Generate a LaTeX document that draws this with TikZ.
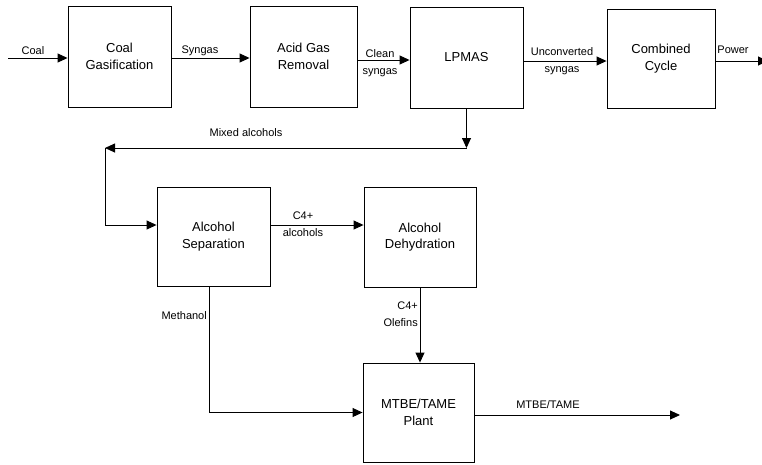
\documentclass[tikz,border=0pt]{standalone}
\usepackage{fontspec}
\setmainfont{Liberation Sans}
\usetikzlibrary{arrows.meta, calc}

\begin{document}
\begin{tikzpicture}[x=1pt,y=-1pt,
  unit/.style={draw,line width=0.9pt,align=center,inner sep=0pt,
    font=\fontsize{13}{16.5}\selectfont},
  flow/.style={line width=0.9pt,-{Triangle[length=10pt,width=9pt]}},
  tag/.style={inner sep=0pt,font=\fontsize{11}{17}\selectfont}]
\useasboundingbox (0,0) rectangle (762,464);
% Process units
\node[unit,minimum width=103pt,minimum height=101pt] (gas) at (119.5,56.5) {Coal\\Gasification};
\node[unit,minimum width=107pt,minimum height=101pt] (agr) at (303.5,56.5) {Acid Gas\\Removal};
\node[unit,minimum width=113pt,minimum height=101pt] (lpmas) at (466.5,57.5) {LPMAS};
\node[unit,minimum width=108pt,minimum height=99pt] (cc) at (661,58.5) {Combined\\Cycle};
\node[unit,minimum width=113pt,minimum height=99pt] (asep) at (213.5,236.5) {Alcohol\\Separation};
\node[unit,minimum width=112pt,minimum height=100pt] (dehy) at (420,237) {Alcohol\\Dehydration};
\node[unit,minimum width=111pt,minimum height=99pt] (mtbe) at (418.5,412.5) {MTBE/TAME\\Plant};
% Free ends and bends
\coordinate (coalin) at (8,58);
\coordinate (powout) at (768,61);
\coordinate (mixR) at (466.5,148);
\coordinate (mixL) at (105,148);
\coordinate (asepin) at ([yshift=11.5pt]asep.west);
\coordinate (prodout) at (680,415);
% Top line
\draw[flow] (coalin) -- (coalin -| gas.west);
\draw[flow] ([yshift=-1.5pt]gas.east) -- ([yshift=-1.5pt]gas.east -| agr.west);
\draw[flow] ([yshift=-3.5pt]agr.east) -- ([yshift=-3.5pt]agr.east -| lpmas.west);
\draw[flow] ([yshift=-3.5pt]lpmas.east) -- ([yshift=-3.5pt]lpmas.east -| cc.west);
\draw[flow] ([yshift=-2.5pt]cc.east) -- (powout);
% Alcohol loop
\draw[flow] (lpmas.south) -- (mixR);
\draw[flow] (mixR) -- (mixL);
\draw[flow] (mixL) |- (asepin);
\draw[flow] (asepin -| asep.east) -- (asepin -| dehy.west);
% Ether plant
\draw[flow] ([xshift=-4.5pt]asep.south) |- (mtbe.west);
\draw[flow] (dehy.south) -- (dehy.south |- mtbe.north);
\draw[flow] ([yshift=-2.5pt]mtbe.east) -- ([yshift=-2.5pt]mtbe.east -| prodout);
% Stream labels
\node[tag] (tcoal) at (33,51) {Coal};
\node[tag] (tsyn) at (200,51) {Syngas};
\node[tag,align=center] (tclean) at (380,63) {Clean\\syngas};
\node[tag,align=center] (tunc) at (562,61) {Unconverted\\syngas};
\node[tag] (tpow) at (733,50) {Power};
\node[tag] (tmix) at (246,133) {Mixed alcohols};
\node[tag,anchor=east] (tmeth) at (207,316) {Methanol};
\node[tag,align=center] (tc4a) at (303,224) {C4+\\alcohols};
\node[tag,align=right,anchor=east] (tc4o) at (418,314) {C4+\\Olefins};
\node[tag] (tprod) at (548,405) {MTBE/TAME};
\end{tikzpicture}
\end{document}
